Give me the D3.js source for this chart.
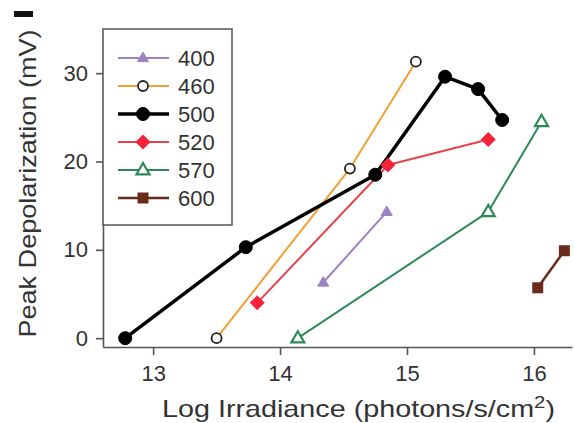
<!DOCTYPE html>
<html>
<head>
<meta charset="utf-8">
<script src="https://cdn.jsdelivr.net/npm/d3@7"></script>
<style>
  body { margin: 0; background: #fff; }
  svg { display: block; font-family: "Liberation Sans", Arial, sans-serif; }
</style>
</head>
<body>
<svg id="chart"></svg>
<script>
// wavelengths (nm) shown in the legend
const seriesNames = ['400', '460', '500', '520', '570', '600'];

// log irradiance (x) and peak depolarization in mV (y) for each series
const x400 = [14.34, 14.84];
const y400 = [6.3, 14.3];
const x460 = [13.50, 14.55, 15.07];
const y460 = [0.0, 19.2, 31.3];
const x500 = [12.78, 13.73, 14.75, 15.30, 15.56, 15.75];
const y500 = [0.0, 10.3, 18.5, 29.6, 28.2, 24.7];
const x520 = [13.82, 14.85, 15.64];
const y520 = [4.0, 19.6, 22.5];
const x570 = [14.14, 15.64, 16.06];
const y570 = [0.0, 14.3, 24.5];
const x600 = [16.03, 16.24];
const y600 = [5.7, 9.9];

const xTicks = [13, 14, 15, 16];
const yTicks = [0, 10, 20, 30];

const width = 575, height = 423;
const margin = { top: 29, right: 3, bottom: 76, left: 103 };

const svg = d3.select('#chart')
  .attr('width', width)
  .attr('height', height);

const x = d3.scaleLinear()
  .domain([12.605, 16.3])
  .range([margin.left, width - margin.right]);

const y = d3.scaleLinear()
  .domain([-1, 35])
  .range([height - margin.bottom, margin.top]);

// series styling
const styles = {
  '400': { color: '#9c82c4', width: 2, shape: 'tri', fill: '#9c82c4', size: 11 },
  '460': { color: '#f0a035', width: 2, shape: 'circle', fill: '#fff', size: 5 },
  '500': { color: '#000', width: 3.5, shape: 'circle', fill: '#000', size: 6.5 },
  '520': { color: '#e8434a', width: 2, shape: 'diamond', fill: '#f2233a', size: 7.5 },
  '570': { color: '#2f8a58', width: 2, shape: 'tri', fill: '#fff', size: 13 },
  '600': { color: '#6a2a1c', width: 2.5, shape: 'square', fill: '#6a2a1c', size: 11 }
};

const seriesX = { '400': x400, '460': x460, '500': x500, '520': x520, '570': x570, '600': x600 };
const seriesY = { '400': y400, '460': y460, '500': y500, '520': y520, '570': y570, '600': y600 };

const series = seriesNames.map(name => ({
  name,
  points: seriesX[name].map((v, i) => ({ x: v, y: seriesY[name][i] }))
}));

// marker outline colour (open circles have a black edge)
function edge(name) {
  return name === '460' ? '#222' : styles[name].color;
}

function drawMarker(g, name, cx, cy) {
  const s = styles[name];
  if (s.shape === 'circle') {
    g.append('circle')
      .attr('cx', cx).attr('cy', cy).attr('r', s.size)
      .attr('fill', s.fill)
      .attr('stroke', edge(name))
      .attr('stroke-width', name === '460' ? 1.8 : 1);
  } else if (s.shape === 'tri') {
    const h = s.size * Math.sqrt(3) / 2;
    g.append('path')
      .attr('d', `M${cx},${cy - h * 0.62}L${cx + s.size / 2},${cy + h * 0.38}L${cx - s.size / 2},${cy + h * 0.38}Z`)
      .attr('fill', s.fill)
      .attr('stroke', s.color)
      .attr('stroke-width', name === '570' ? 2.2 : 1);
  } else if (s.shape === 'diamond') {
    const r = s.size;
    g.append('path')
      .attr('d', `M${cx},${cy - r}L${cx + r},${cy}L${cx},${cy + r}L${cx - r},${cy}Z`)
      .attr('fill', s.fill)
      .attr('stroke', 'none');
  } else {
    g.append('rect')
      .attr('x', cx - s.size / 2).attr('y', cy - s.size / 2)
      .attr('width', s.size).attr('height', s.size)
      .attr('fill', s.fill);
  }
}

// axes
const xAxis = svg.append('g')
  .attr('transform', `translate(0,${y(-1)})`)
  .call(d3.axisBottom(x).tickValues(xTicks).tickFormat(d3.format('d'))
    .tickSize(8).tickPadding(10).tickSizeOuter(0));

const yAxis = svg.append('g')
  .attr('transform', `translate(${x(12.605)},0)`)
  .call(d3.axisLeft(y).tickValues(yTicks).tickFormat(d3.format('d'))
    .tickSize(7).tickPadding(8).tickSizeOuter(0));

[xAxis, yAxis].forEach(a => {
  a.select('.domain').attr('stroke', '#555').attr('stroke-width', 1.6);
  a.selectAll('.tick line').attr('stroke', '#555').attr('stroke-width', 1.6);
  a.selectAll('.tick text')
    .attr('fill', '#333')
    .style('font-size', '22px')
    .style('font-family', '"Liberation Sans", Arial, sans-serif');
});

// lines
const line = d3.line().x(d => x(d.x)).y(d => y(d.y));

const plot = svg.append('g');
series.forEach(s => {
  plot.append('path')
    .datum(s.points)
    .attr('d', line)
    .attr('fill', 'none')
    .attr('stroke', styles[s.name].color)
    .attr('stroke-width', styles[s.name].width)
    .attr('stroke-linejoin', 'round');
});
series.forEach(s => {
  s.points.forEach(p => drawMarker(plot, s.name, x(p.x), y(p.y)));
});

// legend box
const legend = svg.append('g');
legend.append('rect')
  .attr('x', margin.left).attr('y', margin.top)
  .attr('width', 129).attr('height', 196)
  .attr('fill', '#fff')
  .attr('stroke', '#555')
  .attr('stroke-width', 1.5);

seriesNames.forEach((name, i) => {
  const ly = 58 + i * 28;
  legend.append('line')
    .attr('x1', 118).attr('x2', 169)
    .attr('y1', ly).attr('y2', ly)
    .attr('stroke', styles[name].color)
    .attr('stroke-width', styles[name].width);
  drawMarker(legend, name, 143, ly);
  legend.append('text')
    .attr('x', 178).attr('y', ly)
    .attr('dy', '0.36em')
    .attr('fill', '#333')
    .style('font-size', '22px')
    .text(name);
});

// axis titles (the original lettering is set a little wider than Arial)
const xTitle = svg.append('text')
  .attr('x', 162)
  .attr('y', 417)
  .attr('fill', '#333')
  .attr('textLength', 393)
  .attr('lengthAdjust', 'spacingAndGlyphs')
  .style('font-size', '24px');
xTitle.append('tspan').text('Log Irradiance (photons/s/cm');
xTitle.append('tspan').attr('dy', -9).style('font-size', '17px').text('2');
xTitle.append('tspan').attr('dy', 9).text(')');

svg.append('text')
  .attr('transform', `translate(36,${(29 + 338) / 2}) rotate(-90)`)
  .attr('text-anchor', 'middle')
  .attr('fill', '#333')
  .attr('textLength', 308)
  .attr('lengthAdjust', 'spacingAndGlyphs')
  .style('font-size', '24px')
  .text('Peak Depolarization (mV)');

// clipped panel letter fragment at the top-left corner
svg.append('rect')
  .attr('x', 14).attr('y', 11)
  .attr('width', 19).attr('height', 6)
  .attr('fill', '#111');
</script>
</body>
</html>
